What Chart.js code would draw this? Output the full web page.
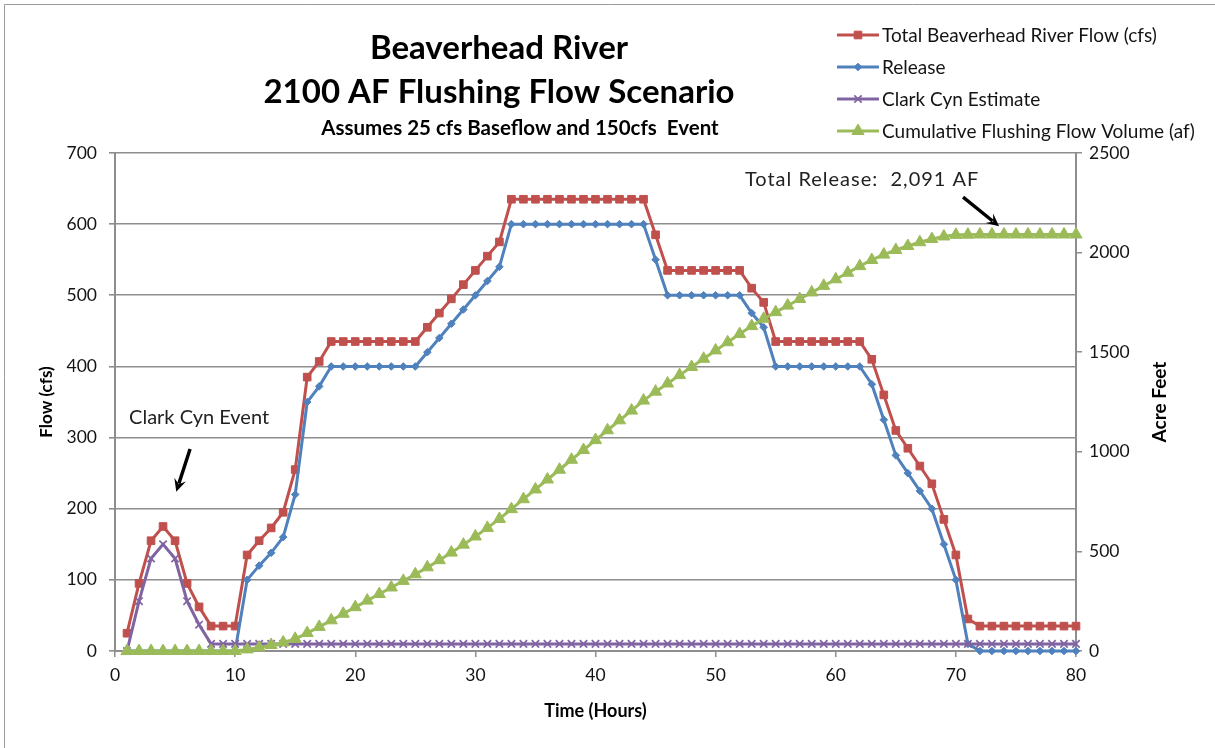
<!DOCTYPE html>
<html>
<head>
<meta charset="utf-8">
<title>Beaverhead River - 2100 AF Flushing Flow Scenario</title>
<script src="https://cdn.jsdelivr.net/npm/chart.js@4/dist/chart.umd.min.js"></script>
<style>
  html, body { margin: 0; padding: 0; background: #ffffff; }
  #wrap { position: relative; width: 1215px; height: 748px; }
  canvas { display: block; }
</style>
</head>
<body>
<div id="wrap"><canvas id="flowChart" width="1215" height="748"></canvas></div>
<script>
// Hour of the scenario (x values)
const hours = [
  1, 2, 3, 4, 5, 6, 7, 8, 9, 10,
  11, 12, 13, 14, 15, 16, 17, 18, 19, 20,
  21, 22, 23, 24, 25, 26, 27, 28, 29, 30,
  31, 32, 33, 34, 35, 36, 37, 38, 39, 40,
  41, 42, 43, 44, 45, 46, 47, 48, 49, 50,
  51, 52, 53, 54, 55, 56, 57, 58, 59, 60,
  61, 62, 63, 64, 65, 66, 67, 68, 69, 70,
  71, 72, 73, 74, 75, 76, 77, 78, 79, 80
];

// Total Beaverhead River Flow (cfs)
const totalFlow = [
  25, 95, 155, 175, 155, 95, 62, 35, 35, 35,
  135, 155, 173, 195, 255, 385, 407, 435, 435, 435,
  435, 435, 435, 435, 435, 455, 475, 495, 515, 535,
  555, 575, 635, 635, 635, 635, 635, 635, 635, 635,
  635, 635, 635, 635, 585, 535, 535, 535, 535, 535,
  535, 535, 510, 490, 435, 435, 435, 435, 435, 435,
  435, 435, 410, 360, 310, 285, 260, 235, 185, 135,
  45, 35, 35, 35, 35, 35, 35, 35, 35, 35
];

// Release (cfs)
const release = [
  0, 0, 0, 0, 0, 0, 0, 0, 0, 0,
  100, 120, 138, 160, 220, 350, 372, 400, 400, 400,
  400, 400, 400, 400, 400, 420, 440, 460, 480, 500,
  520, 540, 600, 600, 600, 600, 600, 600, 600, 600,
  600, 600, 600, 600, 550, 500, 500, 500, 500, 500,
  500, 500, 475, 455, 400, 400, 400, 400, 400, 400,
  400, 400, 375, 325, 275, 250, 225, 200, 150, 100,
  10, 0, 0, 0, 0, 0, 0, 0, 0, 0
];

// Clark Cyn Estimate (cfs)
const clarkCyn = [
  0, 70, 130, 150, 130, 70, 37, 10, 10, 10,
  10, 10, 10, 10, 10, 10, 10, 10, 10, 10,
  10, 10, 10, 10, 10, 10, 10, 10, 10, 10,
  10, 10, 10, 10, 10, 10, 10, 10, 10, 10,
  10, 10, 10, 10, 10, 10, 10, 10, 10, 10,
  10, 10, 10, 10, 10, 10, 10, 10, 10, 10,
  10, 10, 10, 10, 10, 10, 10, 10, 10, 10,
  10, 10, 10, 10, 10, 10, 10, 10, 10, 10
];

// Cumulative Flushing Flow Volume (af)
const cumulativeVolume = [
  0, 0, 0, 0, 0, 0, 0, 0, 0, 0,
  8, 18, 30, 43, 61, 90, 121, 154, 187, 220,
  253, 286, 319, 352, 385, 420, 456, 494, 534, 575,
  618, 663, 712, 762, 811, 861, 910, 960, 1009, 1059,
  1108, 1158, 1207, 1257, 1302, 1343, 1385, 1426, 1467, 1509,
  1550, 1591, 1631, 1668, 1701, 1734, 1767, 1800, 1833, 1866,
  1899, 1932, 1963, 1990, 2013, 2033, 2052, 2068, 2081, 2089,
  2090, 2091, 2091, 2091, 2091, 2091, 2091, 2091, 2091, 2091
];

// Axis tick values
const hourTicks = [0, 10, 20, 30, 40, 50, 60, 70, 80];
const flowTicks = [0, 100, 200, 300, 400, 500, 600, 700];
const volumeTicks = [0, 500, 1000, 1500, 2000, 2500];

const FONT = "Lato, 'Open Sans', 'Liberation Sans', sans-serif";
const GRID = '#8e8e8e';
const TEXT = '#141414';

const toPoints = (ys) => hours.map((h, i) => ({ x: h, y: ys[i] }));

const seriesStyle = [
  { label: 'Total Beaverhead River Flow (cfs)', color: '#C0504D', style: 'rect',     radius: 5.4, bw: 1 },
  { label: 'Release',                           color: '#4F81BD', style: 'rectRot',  radius: 3.8, bw: 1 },
  { label: 'Clark Cyn Estimate',                color: '#8064A2', style: 'crossRot', radius: 5.2, bw: 1.7 },
  { label: 'Cumulative Flushing Flow Volume (af)', color: '#9BBB59', style: 'triangle', radius: 7, bw: 1 }
];
const seriesValues = [totalFlow, release, clarkCyn, cumulativeVolume];
const seriesAxis = ['yFlow', 'yFlow', 'yFlow', 'yVolume'];

const datasets = seriesStyle.map((s, i) => ({
  label: s.label,
  data: toPoints(seriesValues[i]),
  yAxisID: seriesAxis[i],
  borderColor: s.color,
  backgroundColor: s.color,
  borderWidth: 3,
  tension: 0,
  pointStyle: s.style,
  pointRadius: s.radius,
  pointBackgroundColor: s.color,
  pointBorderColor: s.color,
  pointBorderWidth: s.bw,
  pointHoverRadius: s.radius,
  order: 4 - i,
  clip: false
}));

function marker(ctx, style, radius, bw, color, x, y) {
  ctx.save();
  ctx.fillStyle = color;
  ctx.strokeStyle = color;
  ctx.lineWidth = bw;
  if (Chart.helpers && Chart.helpers.drawPoint) {
    Chart.helpers.drawPoint(ctx, { pointStyle: style, radius: radius, borderWidth: bw, rotation: 0 }, x, y);
  }
  ctx.restore();
}

function arrow(ctx, x1, y1, x2, y2) {
  const ang = Math.atan2(y2 - y1, x2 - x1);
  const head = 14;
  ctx.save();
  ctx.strokeStyle = '#000';
  ctx.fillStyle = '#000';
  ctx.lineWidth = 3.4;
  ctx.lineCap = 'butt';
  ctx.beginPath();
  ctx.moveTo(x1, y1);
  ctx.lineTo(x2 - Math.cos(ang) * head * 0.6, y2 - Math.sin(ang) * head * 0.6);
  ctx.stroke();
  ctx.beginPath();
  ctx.moveTo(x2, y2);
  ctx.lineTo(x2 - head * Math.cos(ang - 0.45), y2 - head * Math.sin(ang - 0.45));
  ctx.lineTo(x2 - head * 0.55 * Math.cos(ang), y2 - head * 0.55 * Math.sin(ang));
  ctx.lineTo(x2 - head * Math.cos(ang + 0.45), y2 - head * Math.sin(ang + 0.45));
  ctx.closePath();
  ctx.fill();
  ctx.restore();
}

// Titles, legend, right-axis caption, frame and callouts
const decorations = {
  id: 'decorations',
  afterDraw(chart) {
    const ctx = chart.ctx;
    const xs = chart.scales.x;
    const yf = chart.scales.yFlow;
    const area = chart.chartArea;

    ctx.save();
    // frame
    ctx.strokeStyle = '#9a9a9a';
    ctx.lineWidth = 1;
    ctx.beginPath();
    ctx.moveTo(4.5, 748);
    ctx.lineTo(4.5, 4.5);
    ctx.lineTo(1215, 4.5);
    ctx.stroke();

    // chart title
    ctx.fillStyle = '#000';
    ctx.textAlign = 'center';
    ctx.textBaseline = 'middle';
    ctx.font = `bold 33px ${FONT}`;
    ctx.fillText('Beaverhead River', 499, 48);
    ctx.fillText('2100 AF Flushing Flow Scenario', 499, 92);
    ctx.font = `bold 20.5px ${FONT}`;
    ctx.fillText('Assumes 25 cfs Baseflow and 150cfs  Event', 520, 128);

    // right axis caption
    ctx.save();
    ctx.translate(1160, (area.top + area.bottom) / 2);
    ctx.rotate(-Math.PI / 2);
    ctx.font = `bold 19px ${FONT}`;
    ctx.fillText('Acre Feet', 0, 0);
    ctx.restore();

    // legend
    ctx.textAlign = 'left';
    ctx.font = `19px ${FONT}`;
    chart.data.datasets.forEach((ds, i) => {
      const s = seriesStyle[i];
      const y = 35 + i * 32;
      ctx.strokeStyle = s.color;
      ctx.lineWidth = 3;
      ctx.beginPath();
      ctx.moveTo(837, y);
      ctx.lineTo(879, y);
      ctx.stroke();
      marker(ctx, s.style, s.radius, s.bw, s.color, 858, y);
      ctx.fillStyle = TEXT;
      ctx.fillText(ds.label, 882, y + 1);
    });

    // callouts
    ctx.fillStyle = '#222';
    ctx.textAlign = 'center';
    ctx.font = `20px ${FONT}`;
    ctx.fillText('Clark Cyn Event', xs.getPixelForValue(7.0), yf.getPixelForValue(328));
    arrow(ctx, xs.getPixelForValue(6.25), yf.getPixelForValue(284),
               xs.getPixelForValue(5.1), yf.getPixelForValue(224));
    ctx.letterSpacing = '1px';
    ctx.fillText('Total Release:  2,091 AF', xs.getPixelForValue(62.2), yf.getPixelForValue(662));
    ctx.letterSpacing = '0px';
    arrow(ctx, xs.getPixelForValue(70.6), yf.getPixelForValue(638),
               xs.getPixelForValue(73.6), yf.getPixelForValue(597));
    ctx.restore();
  }
};

new Chart(document.getElementById('flowChart'), {
  type: 'line',
  data: { datasets: datasets },
  plugins: [decorations],
  options: {
    responsive: false,
    animation: false,
    devicePixelRatio: 1,
    layout: { padding: { top: 153, left: 0, right: 0, bottom: 0 } },
    plugins: {
      legend: { display: false },
      title: { display: false },
      tooltip: { enabled: false }
    },
    scales: {
      x: {
        type: 'linear',
        min: 0, max: 80,
        afterBuildTicks: (s) => { s.ticks = hourTicks.map(v => ({ value: v })); },
        afterFit: (s) => { s.height = 97; },
        grid: { drawOnChartArea: false, drawTicks: true, tickLength: 6, color: GRID, lineWidth: 1.5 },
        border: { display: true, color: GRID, width: 2 },
        ticks: { padding: 8, color: TEXT, font: { family: FONT, size: 17.5 }, maxRotation: 0,
                 callback: (v) => String(v) },
        title: { display: true, text: 'Time (Hours)', color: '#000',
                 font: { family: FONT, size: 18, weight: 'bold' }, padding: { top: 0, bottom: 26 } }
      },
      yFlow: {
        type: 'linear',
        position: 'left',
        min: 0, max: 700,
        afterBuildTicks: (s) => { s.ticks = flowTicks.map(v => ({ value: v })); },
        afterFit: (s) => { s.width = 115; },
        grid: { drawOnChartArea: true, drawTicks: true, tickLength: 6, color: GRID, lineWidth: 1.6 },
        border: { display: true, color: GRID, width: 2 },
        ticks: { padding: 12, color: TEXT, font: { family: FONT, size: 17.5 },
                 callback: (v) => String(v) },
        title: { display: true, text: 'Flow (cfs)', color: '#000',
                 font: { family: FONT, size: 17, weight: 'bold' }, padding: { top: 36, bottom: 0 } }
      },
      yVolume: {
        type: 'linear',
        position: 'right',
        min: 0, max: 2500,
        afterBuildTicks: (s) => { s.ticks = volumeTicks.map(v => ({ value: v })); },
        afterFit: (s) => { s.width = 139; },
        grid: { drawOnChartArea: false, drawTicks: true, tickLength: 6, color: GRID, lineWidth: 1.5 },
        border: { display: true, color: GRID, width: 2 },
        ticks: { padding: 7, color: TEXT, font: { family: FONT, size: 17.5 },
                 callback: (v) => String(v) }
      }
    }
  }
});
</script>
</body>
</html>
